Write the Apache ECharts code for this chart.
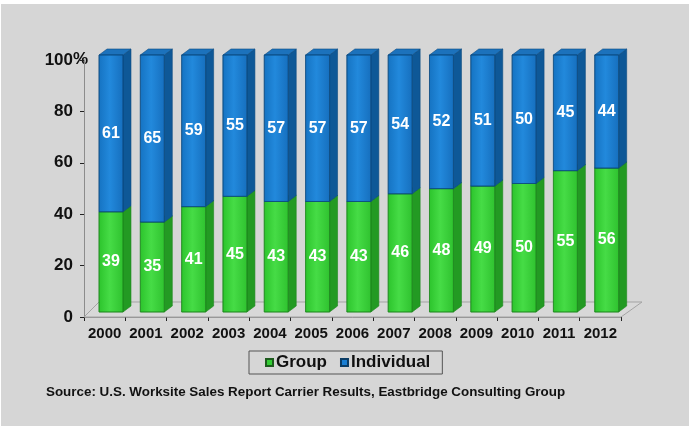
<!DOCTYPE html>
<html>
<head>
<meta charset="utf-8">
<title>Group vs Individual share, 2000-2012</title>
<script src="https://cdn.jsdelivr.net/npm/echarts@6/dist/echarts.min.js"></script>
<style>
  html, body { margin: 0; padding: 0; width: 689px; height: 426px; background: #d6d6d6; overflow: hidden; }
  #frame { position: absolute; left: 0; top: 0; width: 689px; height: 426px; border-top: 4px solid #fff; border-left: 1px solid #fff; box-sizing: border-box; }
  #chart { position: absolute; left: 0; top: 0; width: 689px; height: 426px; }
</style>
</head>
<body>
<div id="frame"></div>
<div id="chart"></div>
<script>
// Share of sales (percent) by year
const years = ['2000', '2001', '2002', '2003', '2004', '2005', '2006', '2007', '2008', '2009', '2010', '2011', '2012'];
const groupShare = [39, 35, 41, 45, 43, 43, 43, 46, 48, 49, 50, 55, 56];
const individualShare = [61, 65, 59, 55, 57, 57, 57, 54, 52, 51, 50, 45, 44];
const yTicks = [0, 20, 40, 60, 80, 100];
const sourceNote = 'Source: U.S. Worksite Sales Report Carrier Results, Eastbridge Consulting Group';

const FONT = '"Liberation Sans", Arial, Helvetica, sans-serif';

// face colours for the extruded bars
const palette = {
  Group: {
    front: ['#2cc42c', '#46dc46', '#2fc22f'],
    side: '#239a23',
    top: '#36c836',
    edge: '#1d861d'
  },
  Individual: {
    front: ['#1573c2', '#2289dc', '#166fbe'],
    side: '#0e5897',
    top: '#1c72bc',
    edge: '#0b4a80'
  }
};

// depth projection of the 3-D boxes
const DEPTH_X = 8, DEPTH_Y = -6;
// boxes stand slightly behind the front edge of the floor
const BACK_SHIFT = -5;

function makeBarRenderer(name) {
  const c = palette[name];
  return function (params, api) {
    const i = api.value(0);
    const lo = api.value(1);
    const hi = api.value(2);
    const zero = api.coord([i, 0]);
    const pLo = api.coord([i, lo]);
    const pHi = api.coord([i, hi]);
    const band = api.size([1, 0])[0];
    const yBot = pLo[1] + BACK_SHIFT;
    const yTop = pHi[1] + BACK_SHIFT;
    const fw = band * 0.58;
    const cx = zero[0] + band * 0.154;
    const x1 = cx - fw / 2, x2 = cx + fw / 2;
    const h = yBot - yTop;
    return {
      type: 'group',
      children: [
        {
          type: 'polygon',
          shape: { points: [[x2, yBot], [x2, yTop], [x2 + DEPTH_X, yTop + DEPTH_Y], [x2 + DEPTH_X, yBot + DEPTH_Y]] },
          style: { fill: c.side, stroke: c.edge, lineWidth: 0.6 }
        },
        {
          type: 'polygon',
          shape: { points: [[x1, yTop], [x2, yTop], [x2 + DEPTH_X, yTop + DEPTH_Y], [x1 + DEPTH_X, yTop + DEPTH_Y]] },
          style: { fill: c.top, stroke: c.edge, lineWidth: 0.6 }
        },
        {
          type: 'rect',
          shape: { x: x1, y: yTop, width: fw, height: h },
          style: {
            fill: new echarts.graphic.LinearGradient(0, 0, 1, 0, [
              { offset: 0, color: c.front[0] },
              { offset: 0.45, color: c.front[1] },
              { offset: 1, color: c.front[2] }
            ]),
            stroke: c.edge,
            lineWidth: 0.6
          }
        },
        {
          type: 'text',
          style: {
            x: cx,
            y: yTop + h / 2,
            text: String(hi - lo),
            fill: '#ffffff',
            font: 'bold 16px ' + FONT,
            align: 'center',
            verticalAlign: 'middle'
          }
        }
      ]
    };
  };
}

// the receding floor under the bars
function renderFloor(params, api) {
  const band = api.size([1, 0])[0];
  const first = api.coord([0, 0]);
  const last = api.coord([years.length - 1, 0]);
  const left = first[0] - band / 2;
  const right = last[0] + band / 2;
  const y = first[1];
  return {
    type: 'polygon',
    shape: { points: [[left, y], [right, y], [right + 21, y - 15], [left + 15, y - 15]] },
    style: { fill: '#d8d8d8', stroke: '#a3a3a3', lineWidth: 1 }
  };
}

const groupData = years.map((y, i) => [i, 0, groupShare[i]]);
const individualData = years.map((y, i) => [i, groupShare[i], groupShare[i] + individualShare[i]]);

const AXIS_LABEL_MARGIN = 11;

const chart = echarts.init(document.getElementById('chart'), null, { renderer: 'canvas' });

chart.setOption({
  backgroundColor: 'transparent',
  animation: false,
  textStyle: { fontFamily: FONT },
  title: {
    text: sourceNote,
    left: 46,
    top: 386,
    padding: 0,
    textStyle: { fontFamily: FONT, fontSize: 13.4, fontWeight: 'bold', color: '#111' }
  },
  legend: {
    data: ['Group', 'Individual'],
    left: 249,
    top: 351,
    padding: [3, 12, 3, 16],
    itemWidth: 7,
    itemHeight: 7,
    itemGap: 13,
    borderColor: '#555',
    borderWidth: 1,
    icon: 'rect',
    textStyle: { fontFamily: FONT, fontSize: 17, fontWeight: 'bold', color: '#111', padding: [0, 0, 0, -2] }
  },
  grid: { left: 84, right: 68, top: 60, bottom: 109, containLabel: false },
  xAxis: {
    type: 'category',
    data: years,
    boundaryGap: true,
    axisLine: { show: true, lineStyle: { color: '#8c8c8c', width: 1 } },
    axisTick: { show: true, length: 4, interval: 0, lineStyle: { color: '#222' } },
    axisLabel: { interval: 0, margin: 9, fontFamily: FONT, fontSize: 15, fontWeight: 'bold', color: '#111' }
  },
  yAxis: {
    type: 'value',
    min: yTicks[0],
    max: yTicks[yTicks.length - 1],
    interval: yTicks[1] - yTicks[0],
    splitLine: { show: false },
    axisLine: { show: true, lineStyle: { color: '#8c8c8c', width: 1 } },
    axisTick: { show: true, length: 4, lineStyle: { color: '#222' } },
    axisLabel: {
      margin: AXIS_LABEL_MARGIN,
      fontFamily: FONT,
      fontSize: 17,
      fontWeight: 'bold',
      color: '#111',
      formatter: v => String(v)
    }
  },
  series: [
    {
      name: 'floor',
      type: 'custom',
      renderItem: renderFloor,
      data: [[0, 0]],
      encode: { x: 0, y: 1 },
      silent: true,
      z: 1
    },
    {
      name: 'Group',
      type: 'custom',
      renderItem: makeBarRenderer('Group'),
      data: groupData,
      encode: { x: 0, y: [1, 2] },
      itemStyle: { color: '#33cc33', borderColor: '#1d5c1d', borderWidth: 1 },
      z: 2
    },
    {
      name: 'Individual',
      type: 'custom',
      renderItem: makeBarRenderer('Individual'),
      data: individualData,
      encode: { x: 0, y: [1, 2] },
      itemStyle: { color: '#1a7fd4', borderColor: '#0b3d66', borderWidth: 1 },
      z: 3
    }
  ]
});

// percent sign trailing the top tick label, hanging past the axis line
const topTick = yTicks[yTicks.length - 1];
const gridLeft = chart.getModel().getComponent('grid', 0).coordinateSystem.getRect().x;
chart.setOption({
  graphic: [{
    type: 'text',
    left: gridLeft - AXIS_LABEL_MARGIN,
    top: chart.convertToPixel({ yAxisIndex: 0 }, topTick) - 9,
    silent: true,
    style: { text: '%', font: 'bold 17px ' + FONT, fill: '#111' }
  }]
});
</script>
</body>
</html>
